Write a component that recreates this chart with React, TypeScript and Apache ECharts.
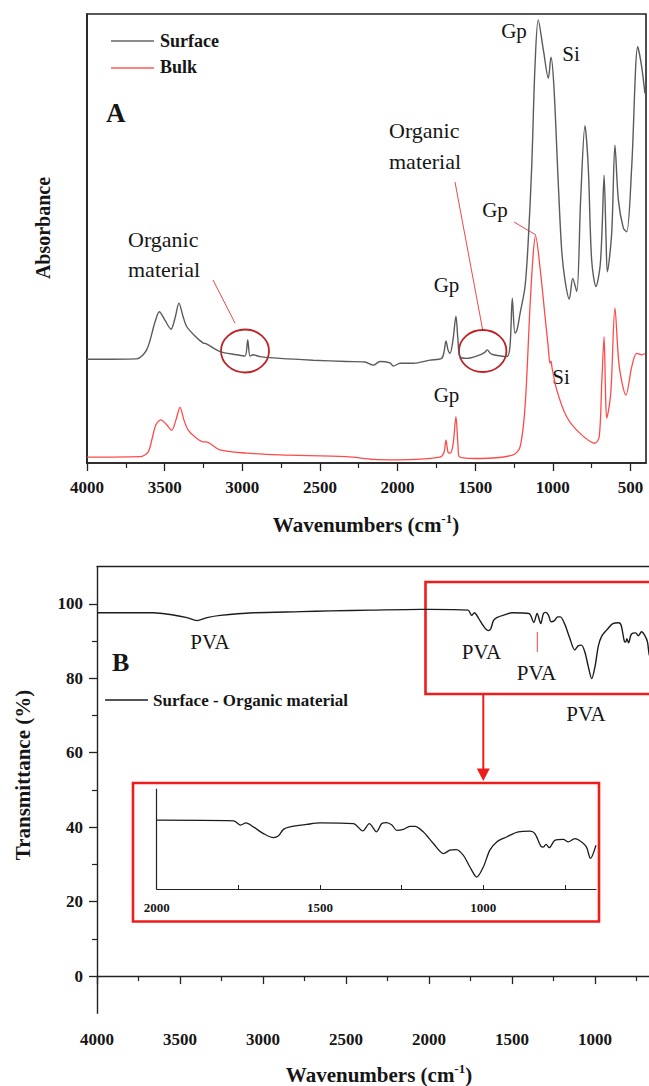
import React, { useEffect, useRef } from "react";
import * as echarts from "echarts";

// ---- Panel A: FTIR absorbance (arbitrary units, 0-100) ----
const surfaceWavenumbers = [
  4000, 3680, 3616, 3562, 3534, 3498, 3459, 3433, 3408, 3382, 3358, 3305, 3251, 3234, 3143, 3036, 2983, 2965,
  2950, 2931, 2886, 2757, 2545, 2328, 2210, 2156, 2113, 2049, 2027, 1984, 1898, 1791, 1716, 1701, 1688, 1675,
  1662, 1643, 1624, 1611, 1598, 1555, 1469, 1437, 1422, 1405, 1383, 1297, 1276, 1261, 1244, 1231, 1211, 1179,
  1158, 1136, 1115, 1094, 1061, 1029, 1012, 993, 965, 943, 922, 894, 872, 846, 821, 793, 772, 750, 722, 696,
  683, 670, 657, 649, 621, 600, 578, 546, 524, 492, 453, 428, 407,
];
const surfaceAbsorbance = [
  23.1, 23.2, 25.2, 31.4, 33.7, 31.8, 29.8, 32.3, 35.6, 32.7, 30.4, 28.3, 26.7, 26.6, 24.8, 24.1, 23.8, 27.4,
  23.8, 24.1, 23.7, 23.3, 22.9, 22.6, 22.5, 21.8, 22.6, 22.3, 21.6, 22.2, 22.2, 22.9, 23.3, 24.7, 27.2, 25.2,
  24.4, 27.4, 32.7, 27.4, 23.7, 23.3, 24.1, 24.7, 25.2, 24.5, 24.1, 23.7, 25.9, 36.7, 28.9, 29.6, 33.3, 39.3,
  49.7, 66.0, 88.3, 98.7, 92.0, 85.7, 90.4, 83.8, 62.3, 47.4, 40.8, 36.5, 41.1, 38.2, 58.6, 75.1, 66.0, 45.2,
  39.3, 43.7, 51.9, 64.1, 49.7, 42.6, 51.2, 70.8, 58.6, 52.3, 51.5, 66.0, 92.7, 88.3, 82.3,
];

const bulkWavenumbers = [
  4000, 3659, 3607, 3583, 3556, 3525, 3491, 3455, 3427, 3401, 3376, 3348, 3304, 3251, 3234, 3143, 2972, 2757,
  2328, 2156, 2005, 1727, 1701, 1688, 1675, 1662, 1643, 1624, 1611, 1602, 1469, 1255, 1211, 1179, 1147, 1127,
  1111, 1083, 1050, 1031, 1018, 1012, 1005, 975, 911, 825, 729, 701, 685, 670, 661, 653, 627, 600, 572, 529,
  492, 460, 428, 407,
];
const bulkAbsorbance = [
  1.3, 1.4, 2.4, 5.1, 8.5, 9.6, 8.7, 7.3, 9.6, 12.4, 9.6, 7.3, 5.8, 4.7, 4.7, 2.9, 2.2, 1.8,
  1.4, 0.8, 0.7, 1.3, 2.4, 5.1, 2.4, 2.2, 4.0, 10.3, 4.0, 1.4, 1.0, 1.8, 3.6, 12.5, 34.8, 46.3,
  50.6, 43.7, 32.6, 26.3, 22.2, 22.7, 21.2, 16.3, 10.3, 6.6, 4.4, 5.9, 17.8, 28.1, 16.3, 10.0, 15.5, 34.5, 21.4, 15.1,
  21.4, 24.4, 24.1, 24.4,
];

// ---- Panel B: transmittance (%) of the surface organic material ----
const organicWavenumbers = [
  4000, 3782, 3662, 3541, 3458, 3398, 3337, 3257, 3057, 2773, 2592, 2350, 2048, 2000, 1765, 1743, 1727, 1704,
  1673, 1643, 1628, 1612, 1592, 1541, 1500, 1398, 1369, 1349, 1327, 1311, 1296, 1280, 1265, 1245, 1225, 1209,
  1184, 1153, 1122, 1102, 1082, 1061, 1041, 1020, 1000, 980, 959, 929, 893, 857, 842, 824, 816, 808, 798, 781,
  755, 740, 720, 699, 684, 672, 655,
];
const organicTransmittance = [
  97.6, 97.6, 97.6, 97.0, 96.3, 95.5, 96.3, 96.9, 97.6, 97.9, 98.1, 98.3, 98.5, 98.5, 98.3, 96.9, 97.6, 96.3,
  94.1, 92.8, 93.3, 95.5, 96.3, 97.1, 97.6, 97.4, 95.0, 97.4, 94.7, 97.4, 97.7, 96.9, 95.2, 95.5, 96.5, 96.5,
  94.7, 90.9, 87.6, 88.7, 88.9, 87.0, 83.2, 79.9, 83.2, 88.7, 91.4, 93.0, 94.7, 94.9, 94.1, 90.0, 89.7, 90.6, 89.5, 91.9,
  92.2, 91.4, 92.5, 91.4, 89.7, 86.0, 90.3,
];

// ---- Axis ticks ----
const spectrumMajorTicks = [4000, 3500, 3000, 2500, 2000, 1500, 1000, 500];
const spectrumMinorTicks = [3750, 3250, 2750, 2250, 1750, 1250, 750];
const panelBTickLabels = [4000, 3500, 3000, 2500, 2000, 1500, 1000];
const transmittanceLabels = [0, 20, 40, 60, 80, 100];
const transmittanceMinorTicks = [10, 30, 50, 70, 90];
const insetLabels = [2000, 1500, 1000];
const insetTicks = [2000, 1750, 1500, 1250, 1000, 750];

const FONT = '"Liberation Serif", "DejaVu Serif", serif';
const INK = "#161616";
const ANNOT_RED = "#ef1c1c";

const pairs = (xs: number[], ys: number[]) => xs.map((x, i) => [x, ys[i]]);
const plain = (v: number) => String(v);

function label(x: number, y: number, text: string, size: number, bold = false, align = "center", extra: any = {}) {
  return {
    type: "text",
    x,
    y,
    ...extra,
    style: {
      text,
      fontFamily: FONT,
      fontSize: size,
      fontWeight: bold ? "bold" : "normal",
      fill: INK,
      align,
      verticalAlign: "middle",
    },
  };
}

function segment(x1: number, y1: number, x2: number, y2: number, stroke: string, lineWidth = 1) {
  return { type: "line", shape: { x1, y1, x2, y2 }, style: { stroke, lineWidth } };
}

function wavenumberTitle(x: number, y: number) {
  return {
    type: "text",
    x,
    y,
    style: {
      text: "{a|Wavenumbers (cm}{s|-1}{a|)}",
      align: "center",
      verticalAlign: "middle",
      fill: INK,
      rich: {
        a: { fontFamily: FONT, fontSize: 21, fontWeight: "bold", lineHeight: 26, fill: INK },
        s: { fontFamily: FONT, fontSize: 13, fontWeight: "bold", verticalAlign: "top", fill: INK },
      },
    },
  };
}

const tickLabelStyle = { fontFamily: FONT, fontWeight: "bold", fontSize: 17, color: INK, formatter: plain };
const axisStroke = { color: "#222", width: 1.4 };
const hidden = { show: false };

function buildOption(): any {
  const organicPairs = pairs(organicWavenumbers, organicTransmittance);
  const insetPairs = organicPairs.filter((p) => p[0] <= 2000);

  return {
    animation: false,
    backgroundColor: "#ffffff",
    grid: [
      { left: 87, top: 14, width: 559, height: 449, show: true, borderColor: "#222", borderWidth: 1.6, backgroundColor: "transparent" },
      { left: 97, top: 566.6, right: 0, height: 446.7 },
      { left: 156.7, top: 789, width: 439.3, height: 100 },
    ],
    xAxis: [
      {
        gridIndex: 0, type: "value", position: "bottom", min: 400, max: 4000, inverse: true,
        axisLine: { show: true, lineStyle: { color: "#222", width: 1.6 } },
        axisTick: { show: true, customValues: spectrumMajorTicks, length: 8, lineStyle: { color: "#222", width: 1.3 } },
        axisLabel: { customValues: spectrumMajorTicks, margin: 16, ...tickLabelStyle },
        splitLine: hidden,
      },
      {
        gridIndex: 0, type: "value", position: "bottom", min: 400, max: 4000, inverse: true,
        axisLine: hidden,
        axisTick: { show: true, customValues: spectrumMinorTicks, length: 5, lineStyle: { color: "#222", width: 1.2 } },
        axisLabel: hidden, splitLine: hidden,
      },
      {
        gridIndex: 1, type: "value", position: "bottom", min: 675, max: 4000, inverse: true,
        axisLine: { show: true, lineStyle: axisStroke },
        axisTick: { show: true, customValues: spectrumMajorTicks.filter((v) => v >= 1000), length: 8, lineStyle: { color: "#222", width: 1.3 } },
        axisLabel: { customValues: panelBTickLabels, margin: 18, ...tickLabelStyle },
        splitLine: hidden,
      },
      {
        gridIndex: 1, type: "value", position: "bottom", min: 675, max: 4000, inverse: true,
        axisLine: hidden,
        axisTick: { show: true, customValues: spectrumMinorTicks, length: 5, lineStyle: { color: "#222", width: 1.2 } },
        axisLabel: hidden, splitLine: hidden,
      },
      {
        // top edge of panel B's frame
        gridIndex: 1, type: "value", position: "top", min: 675, max: 4000, inverse: true,
        axisLine: { show: true, lineStyle: axisStroke },
        axisTick: hidden, axisLabel: hidden, splitLine: hidden,
      },
      {
        gridIndex: 2, type: "value", position: "bottom", min: 655, max: 2000, inverse: true,
        axisLine: { show: true, lineStyle: { color: "#222", width: 1.2 } },
        axisTick: { show: true, inside: true, customValues: insetTicks, length: 4, lineStyle: { color: "#222", width: 1 } },
        axisLabel: { customValues: insetLabels, margin: 12, fontFamily: FONT, fontWeight: "bold", fontSize: 13, color: INK, formatter: plain },
        splitLine: hidden,
      },
    ],
    yAxis: [
      {
        gridIndex: 0, type: "value", position: "left", min: 0, max: 100,
        axisLine: { show: true, lineStyle: { color: "#222", width: 1.6 } },
        axisTick: hidden, axisLabel: hidden, splitLine: hidden,
      },
      {
        gridIndex: 1, type: "value", position: "left", min: -10, max: 110,
        axisLine: { show: true, lineStyle: axisStroke },
        axisTick: { show: true, customValues: transmittanceLabels, length: 8, lineStyle: { color: "#222", width: 1.3 } },
        axisLabel: { customValues: transmittanceLabels, margin: 14, ...tickLabelStyle },
        splitLine: hidden,
      },
      {
        gridIndex: 1, type: "value", position: "left", min: -10, max: 110,
        axisLine: hidden,
        axisTick: { show: true, customValues: transmittanceMinorTicks, length: 5, lineStyle: { color: "#222", width: 1.2 } },
        axisLabel: hidden, splitLine: hidden,
      },
      {
        gridIndex: 2, type: "value", position: "left", min: 76, max: 108.7,
        axisLine: { show: true, lineStyle: { color: "#222", width: 1.2 } },
        axisTick: hidden, axisLabel: hidden, splitLine: hidden,
      },
    ],
    series: [
      {
        name: "Surface", type: "line", xAxisIndex: 0, yAxisIndex: 0, data: pairs(surfaceWavenumbers, surfaceAbsorbance),
        symbol: "none", smooth: 0.3, lineStyle: { color: "#5b5b5b", width: 1.4 }, z: 3,
      },
      {
        name: "Bulk", type: "line", xAxisIndex: 0, yAxisIndex: 0, data: pairs(bulkWavenumbers, bulkAbsorbance),
        symbol: "none", smooth: 0.3, lineStyle: { color: "#ff4a4a", width: 1.3 }, z: 2,
      },
      {
        name: "Surface - Organic material", type: "line", xAxisIndex: 2, yAxisIndex: 1, data: organicPairs,
        symbol: "none", smooth: 0.3, lineStyle: { color: "#1c1c1c", width: 1.4 },
      },
      {
        name: "Surface - Organic material (2000-655)", type: "line", xAxisIndex: 5, yAxisIndex: 3, data: insetPairs,
        symbol: "none", smooth: 0.3, lineStyle: { color: "#1c1c1c", width: 1.3 },
      },
    ],
    graphic: [
      // Panel A legend and tag
      segment(111, 41, 154, 41, "#666666", 1.4),
      label(160, 41, "Surface", 18, true, "left"),
      segment(111, 68, 154, 68, "#ff5a5a", 1.4),
      label(160, 67, "Bulk", 18, true, "left"),
      label(106, 113, "A", 27, true, "left"),
      // Organic material call-outs
      label(128, 239, "Organic", 22, false, "left"),
      label(128, 269, "material", 22, false, "left"),
      segment(213, 280, 235, 323, "#f0474a", 1),
      { type: "ellipse", shape: { cx: 245, cy: 351, rx: 24, ry: 21.5 }, style: { fill: "none", stroke: "#bf2227", lineWidth: 1.8 } },
      label(389, 130, "Organic", 22, false, "left"),
      label(389, 161, "material", 22, false, "left"),
      segment(455, 182, 482.7, 330, "#f0474a", 1),
      { type: "ellipse", shape: { cx: 482.7, cy: 351, rx: 23.7, ry: 21 }, style: { fill: "none", stroke: "#bf2227", lineWidth: 1.8 } },
      // Band assignments
      label(514, 31, "Gp", 21),
      label(571, 54, "Si", 21),
      label(495, 210, "Gp", 21),
      segment(514, 222, 536, 235, "#f0474a", 1),
      label(446.5, 285, "Gp", 21),
      label(446.5, 395, "Gp", 21),
      label(561, 377, "Si", 21),
      label(43, 228, "Absorbance", 20, true, "center", { rotation: Math.PI / 2 }),
      wavenumberTitle(366, 525),

      // Panel B
      label(112, 662, "B", 26, true, "left"),
      segment(105, 700, 148, 700, "#1c1c1c", 1.4),
      label(153, 700, "Surface - Organic material", 17, true, "left"),
      label(210, 642, "PVA", 21),
      label(481.5, 652, "PVA", 21),
      label(536.5, 673, "PVA", 21),
      label(586, 714, "PVA", 21),
      segment(537.3, 632, 537.3, 652, "#f0474a", 1),
      { type: "rect", shape: { x: 425.5, y: 582, width: 240, height: 112 }, style: { fill: "none", stroke: ANNOT_RED, lineWidth: 2.6 } },
      segment(483.3, 694, 483.3, 770, ANNOT_RED, 2),
      { type: "polygon", shape: { points: [[476.8, 768.5], [489.8, 768.5], [483.3, 781]] }, style: { fill: ANNOT_RED } },
      { type: "rect", shape: { x: 133, y: 783, width: 466, height: 138.5 }, style: { fill: "none", stroke: ANNOT_RED, lineWidth: 2.6 } },
      label(23, 775, "Transmittance (%)", 21, true, "center", { rotation: Math.PI / 2 }),
      wavenumberTitle(379, 1075),
    ],
  };
}

export default function App() {
  const ref = useRef<HTMLDivElement>(null);
  useEffect(() => {
    if (!ref.current) return;
    const chart = echarts.init(ref.current, null, { renderer: "svg" });
    chart.setOption(buildOption());
    return () => chart.dispose();
  }, []);
  return <div ref={ref} style={{ position: "absolute", left: 0, top: 0, width: 649, height: 1086 }} />;
}
